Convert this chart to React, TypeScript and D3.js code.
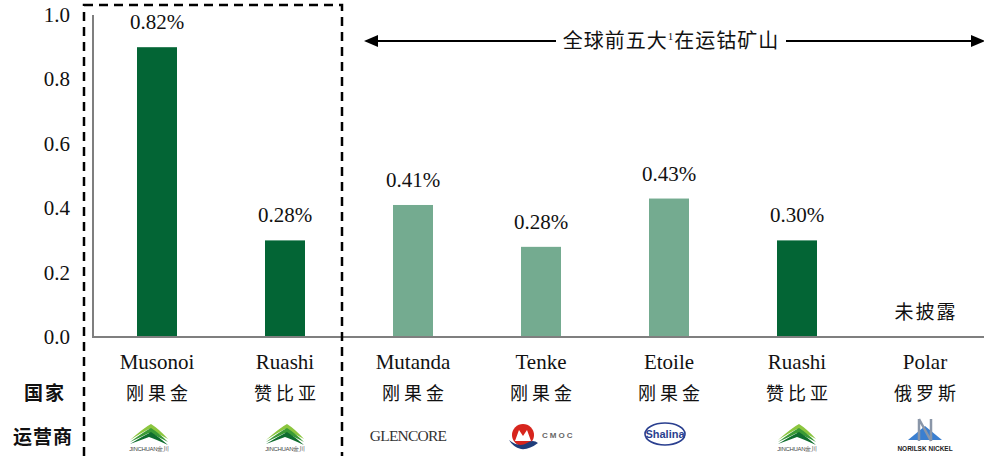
import React from "react";
import * as d3 from "d3";

const categories = ["Musonoi", "Ruashi", "Mutanda", "Tenke", "Etoile", "Ruashi2", "Polar"];
const names = ["Musonoi", "Ruashi", "Mutanda", "Tenke", "Etoile", "Ruashi", "Polar"];
const countries = ["刚果金", "赞比亚", "刚果金", "刚果金", "刚果金", "赞比亚", "俄罗斯"];
const barValues: (number | null)[] = [0.9, 0.3, 0.41, 0.28, 0.43, 0.3, null];
const barLabels = ["0.82%", "0.28%", "0.41%", "0.28%", "0.43%", "0.30%", "未披露"];
const barKinds = ["dark", "dark", "light", "light", "light", "dark", "none"];
const operators = ["jinchuan", "jinchuan", "glencore", "cmoc", "shalina", "jinchuan", "norilsk"];
const yTicks = [0, 0.2, 0.4, 0.6, 0.8, 1.0];

const W = 984, H = 456;
const SERIF: React.CSSProperties = { fontFamily: "Liberation Serif, Times New Roman, serif" };
const CJK: React.CSSProperties = { fontFamily: "Noto Sans CJK SC, sans-serif" };
const SANS: React.CSSProperties = { fontFamily: "Liberation Sans, Arial, sans-serif" };
const DARK = "#036535";
const LIGHT = "#74ab90";

function Logo({ kind, cx, cy, first }: { kind: string; cx: number; cy: number; first: boolean }) {
  if (kind === "jinchuan") {
    const dx = first ? -8 : 0;
    return (
      <g transform={`translate(${cx + dx},${cy})`}>
        <path d="M-19,5 Q-4,-8 2,-11 Q10,-6 19,4 Q6,-3 0,-6 Q-8,-2 -19,5 Z" fill="#8cc63f" />
        <path d="M-19,7 Q-4,-4 2,-7 Q10,-2 19,7 Q6,0 0,-2 Q-8,2 -19,7 Z" fill="#3a9a35" />
        <path d="M-19,9 Q-4,0 2,-3 Q10,2 19,10 Q6,4 0,2 Q-8,5 -19,9 Z" fill="#0f6e2e" />
        <text x={0} y={16} textAnchor="middle" fontSize={6} style={SANS} fill="#444" letterSpacing={-0.3}>JINCHUAN金川</text>
      </g>
    );
  }
  if (kind === "glencore") {
    return (
      <text x={cx - 5} y={cy + 6} textAnchor="middle" fontSize={15.5} style={SERIF} fill="#333" letterSpacing={-0.8}>GLENCORE</text>
    );
  }
  if (kind === "cmoc") {
    return (
      <g transform={`translate(${cx - 18},${cy})`}>
        <circle cx={0} cy={0} r={11} fill="#d7251d" />
        <path d="M-8,6 L-4,-5 L0,1 L4,-5 L8,6 Z" fill="#fff" />
        <path d="M-14,5 Q-4,13 4,8 Q10,4 15,8 Q6,15 -2,14 Q-10,12 -14,5 Z" fill="#1f3d7a" />
        <text x={19} y={3} fontSize={8} fontWeight="bold" style={SANS} fill="#666" letterSpacing={2}>CMOC</text>
      </g>
    );
  }
  if (kind === "shalina") {
    return (
      <g transform={`translate(${cx - 4},${cy - 1})`}>
        <ellipse cx={0} cy={0} rx={20} ry={11} fill="#fff" stroke="#2a3f8f" strokeWidth={1.6} />
        <text x={0} y={4} textAnchor="middle" fontSize={11} fontWeight="bold" style={SANS} fill="#2a3f8f">Shalina</text>
      </g>
    );
  }
  if (kind === "norilsk") {
    return (
      <g transform={`translate(${cx},${cy})`}>
        <path d="M-17,5 L0,-9 L17,5 Z" fill="#3b7fd0" />
        <path d="M-6,-16 L-6,6 M-6,-16 L6,6 M6,-16 L6,6" stroke="#8a96a8" strokeWidth={2.5} fill="none" />
        <text x={0} y={16} textAnchor="middle" fontSize={6.5} fontWeight="bold" style={SANS} fill="#222">NORILSK  NICKEL</text>
      </g>
    );
  }
  return null;
}

export default function App() {
  const x = d3.scaleBand<string>().domain(categories).range([93, 989]).paddingInner(0).paddingOuter(0);
  const y = d3.scaleLinear().domain([0, 1]).range([337, 15]);
  const barW = 40;
  const arrowY = 41;

  return (
    <svg width={W} height={H} style={{ position: "absolute", left: 0, top: 0, background: "#fff" }}>
      <rect width={W} height={H} fill="#fff" />
      {yTicks.map((t) => (
        <text key={t} x={70} y={y(t) + 7} textAnchor="end" fontSize={21} style={SERIF} fill="#111">
          {d3.format(".1f")(t)}
        </text>
      ))}
      {categories.map((c, i) => {
        const v = barValues[i];
        const cx = (x(c) as number) + x.bandwidth() / 2;
        return (
          <g key={c}>
            {v !== null && (
              <rect x={cx - barW / 2} y={y(v)} width={barW} height={y(0) - y(v)} fill={barKinds[i] === "dark" ? DARK : LIGHT} />
            )}
            {v !== null ? (
              <text x={cx} y={y(v) - 18} textAnchor="middle" fontSize={21} style={SERIF} fill="#111">{barLabels[i]}</text>
            ) : (
              <text x={cx + 1} y={319} textAnchor="middle" fontSize={19} style={CJK} fill="#111" letterSpacing={2}>{barLabels[i]}</text>
            )}
            <text x={cx} y={369} textAnchor="middle" fontSize={21} style={SERIF} fill="#111">{names[i]}</text>
            <text x={cx + 2} y={400} textAnchor="middle" fontSize={18} style={CJK} fill="#111" letterSpacing={4}>{countries[i]}</text>
            <Logo kind={operators[i]} cx={cx} cy={435} first={i === 0} />
          </g>
        );
      })}
      <line x1={93} x2={93} y1={y(1)} y2={y(0)} stroke="#7f7f7f" strokeWidth={2} />
      <line x1={92} x2={W} y1={y(0)} y2={y(0)} stroke="#7f7f7f" strokeWidth={2} />
      <text x={45} y={400} textAnchor="middle" fontSize={19} fontWeight="bold" style={CJK} fill="#111" letterSpacing={2}>国家</text>
      <text x={43} y={444} textAnchor="middle" fontSize={19} fontWeight="bold" style={CJK} fill="#111" letterSpacing={1}>运营商</text>
      <rect x={84} y={5} width={258} height={470} fill="none" stroke="#000" strokeWidth={2.5} strokeDasharray="9 6" />
      <line x1={375} x2={556} y1={arrowY} y2={arrowY} stroke="#000" strokeWidth={2} />
      <line x1={786} x2={974} y1={arrowY} y2={arrowY} stroke="#000" strokeWidth={2} />
      <path d={`M364,${arrowY} L378,${arrowY - 6} L378,${arrowY + 6} Z`} fill="#000" />
      <path d={`M985,${arrowY} L971,${arrowY - 6} L971,${arrowY + 6} Z`} fill="#000" />
      <text x={671} y={arrowY + 7} textAnchor="middle" fontSize={20} style={CJK} fill="#111" letterSpacing={1}>
        全球前五大<tspan fontSize={11} dy={-8} style={SERIF}>1</tspan><tspan dy={8}>在运钴矿山</tspan>
      </text>
    </svg>
  );
}
